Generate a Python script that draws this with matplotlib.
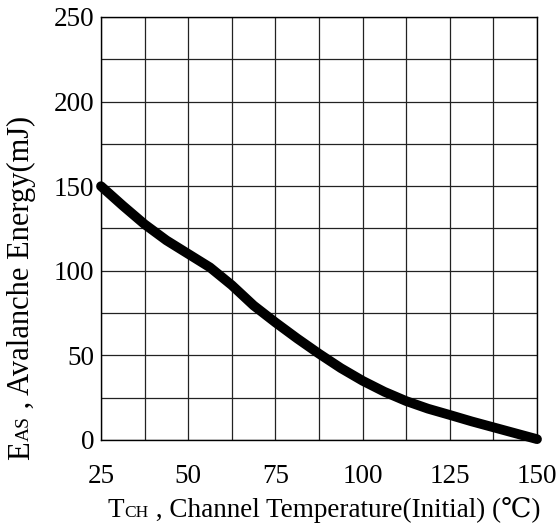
import matplotlib.pyplot as plt
import numpy as np

# avalanche energy vs starting channel temperature
temp_c = [25, 31.25, 37.5, 43.75, 50, 56.25, 62.5, 68.75, 75, 81.25, 87.5,
          93.75, 100, 106.25, 112.5, 118.75, 125, 131.25, 137.5, 143.75, 150]
eas_mj = [150, 138.5, 127.5, 118, 110, 102, 91.5, 79.5, 69.5, 60, 51,
          42.5, 35, 28.5, 23, 18.5, 14.8, 11, 7.5, 4, 0.5]

x_ticks = [25, 50, 75, 100, 125, 150]
y_ticks = [0, 50, 100, 150, 200, 250]

FONT = ["Liberation Serif", "DejaVu Serif"]
plt.rcParams["font.family"] = FONT

fig = plt.figure(figsize=(5.58, 5.26), dpi=100)
ax = fig.add_axes([0.181, 0.1635, 0.7814, 0.8042])

ax.plot(temp_c, eas_mj, color="black", linewidth=7,
        solid_capstyle="round", solid_joinstyle="round", zorder=3, clip_on=False)

ax.set_xlim(25, 150)
ax.set_ylim(0, 250)
ax.set_xticks(np.arange(25, 150.1, 12.5), minor=True)
ax.set_yticks(np.arange(0, 250.1, 25), minor=True)
ax.set_xticks(x_ticks)
ax.set_yticks(y_ticks)
ax.grid(True, which="both", color="#222222", linewidth=0.9)
ax.tick_params(which="both", length=0, labelsize=19.5)
ax.tick_params(axis="x", pad=17)
ax.tick_params(axis="y", pad=5)
for s in ax.spines.values():
    s.set_linewidth(1.0)

big, small = 19.5, 12.5

# x label: T + small CH + rest, on a common baseline
base_y = 1 - 517 / 526
t1 = fig.text(108 / 558, base_y, "T", fontsize=big, ha="left", va="baseline")
t2 = ax.annotate("CH", xy=(1.0, base_y), xycoords=(t1, "figure fraction"),
                 fontsize=small, ha="left", va="baseline")
ax.annotate(" , Channel Temperature(Initial) (\u2103)", xy=(1.0, base_y),
            xycoords=(t2, "figure fraction"), fontsize=big, ha="left", va="baseline")

# y label: E + small AS + rest, rotated
ybig, ysmall = 22, 14
base_x = 29 / 558
e1 = fig.text(base_x, 1 - 460 / 526, "E", fontsize=ybig, rotation=90,
              rotation_mode="anchor", ha="left", va="baseline")
e2 = ax.annotate("AS", xy=(base_x, 1.0), xycoords=("figure fraction", e1),
                 fontsize=ysmall, rotation=90, rotation_mode="anchor",
                 ha="left", va="baseline")
ax.annotate(" , Avalanche Energy(mJ)", xy=(base_x, 1.0),
            xycoords=("figure fraction", e2), fontsize=ybig, rotation=90,
            rotation_mode="anchor", ha="left", va="baseline")

fig.savefig("out.png", dpi=100)
plt.close(fig)
